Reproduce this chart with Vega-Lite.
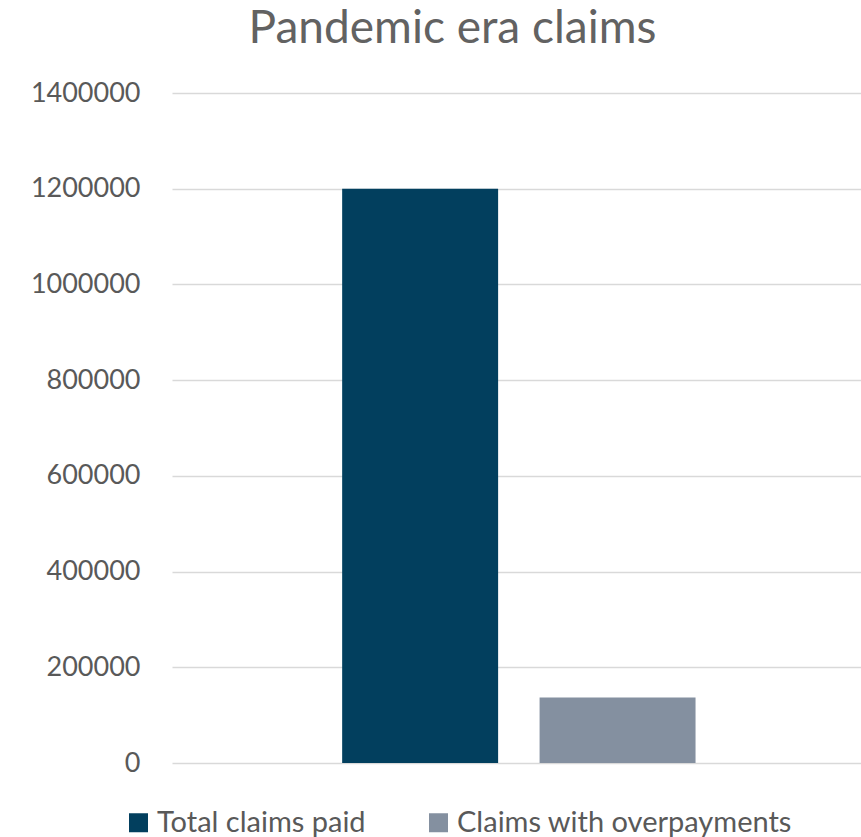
{
  "$schema": "https://vega.github.io/schema/vega-lite/v6.json",
  "autosize": "none",
  "width": 689,
  "height": 670,
  "padding": {"left": 172, "top": 93, "right": 0, "bottom": 74},
  "background": "white",
  "config": {"view": {"stroke": null}, "font": "Lato"},
  "title": {"text": "Pandemic era claims", "fontSize": 46, "font": "Lato", "fontWeight": "normal", "color": "#626262", "anchor": "middle", "frame": "group", "offset": 26, "dx": -64},
  "data": {"values": [
    {"series": "Total claims paid", "value": 1200000},
    {"series": "Claims with overpayments", "value": 137000}
  ]},
  "mark": {"type": "bar"},
  "encoding": {
    "x": {"field": "series", "type": "nominal", "sort": null, "axis": null,
          "scale": {"paddingInner": 0.21, "paddingOuter": 0.85, "align": 0.507}},
    "y": {"field": "value", "type": "quantitative",
          "scale": {"domain": [0, 1400000], "nice": false},
          "axis": {"title": null, "values": [0,200000,400000,600000,800000,1000000,1200000,1400000], "format": "d", "grid": true, "gridColor": "#d9d9d9", "gridWidth": 1.5, "domain": false, "ticks": false, "labelFontSize": 27, "labelColor": "#595959", "labelPadding": 32, "labelFont": "Lato"}},
    "color": {"field": "series", "type": "nominal", "sort": null,
              "scale": {"domain": ["Total claims paid", "Claims with overpayments"], "range": ["#023f5e", "#8490a0"]},
              "legend": {"title": null, "orient": "none", "legendX": -48, "legendY": 715, "direction": "horizontal", "symbolType": "square", "symbolSize": 361, "symbolStrokeWidth": 0, "labelFontSize": 29, "labelLimit": 0, "labelColor": "#595959", "labelFont": "Lato", "columnPadding": 58, "labelOffset": 4}}
  }
}
